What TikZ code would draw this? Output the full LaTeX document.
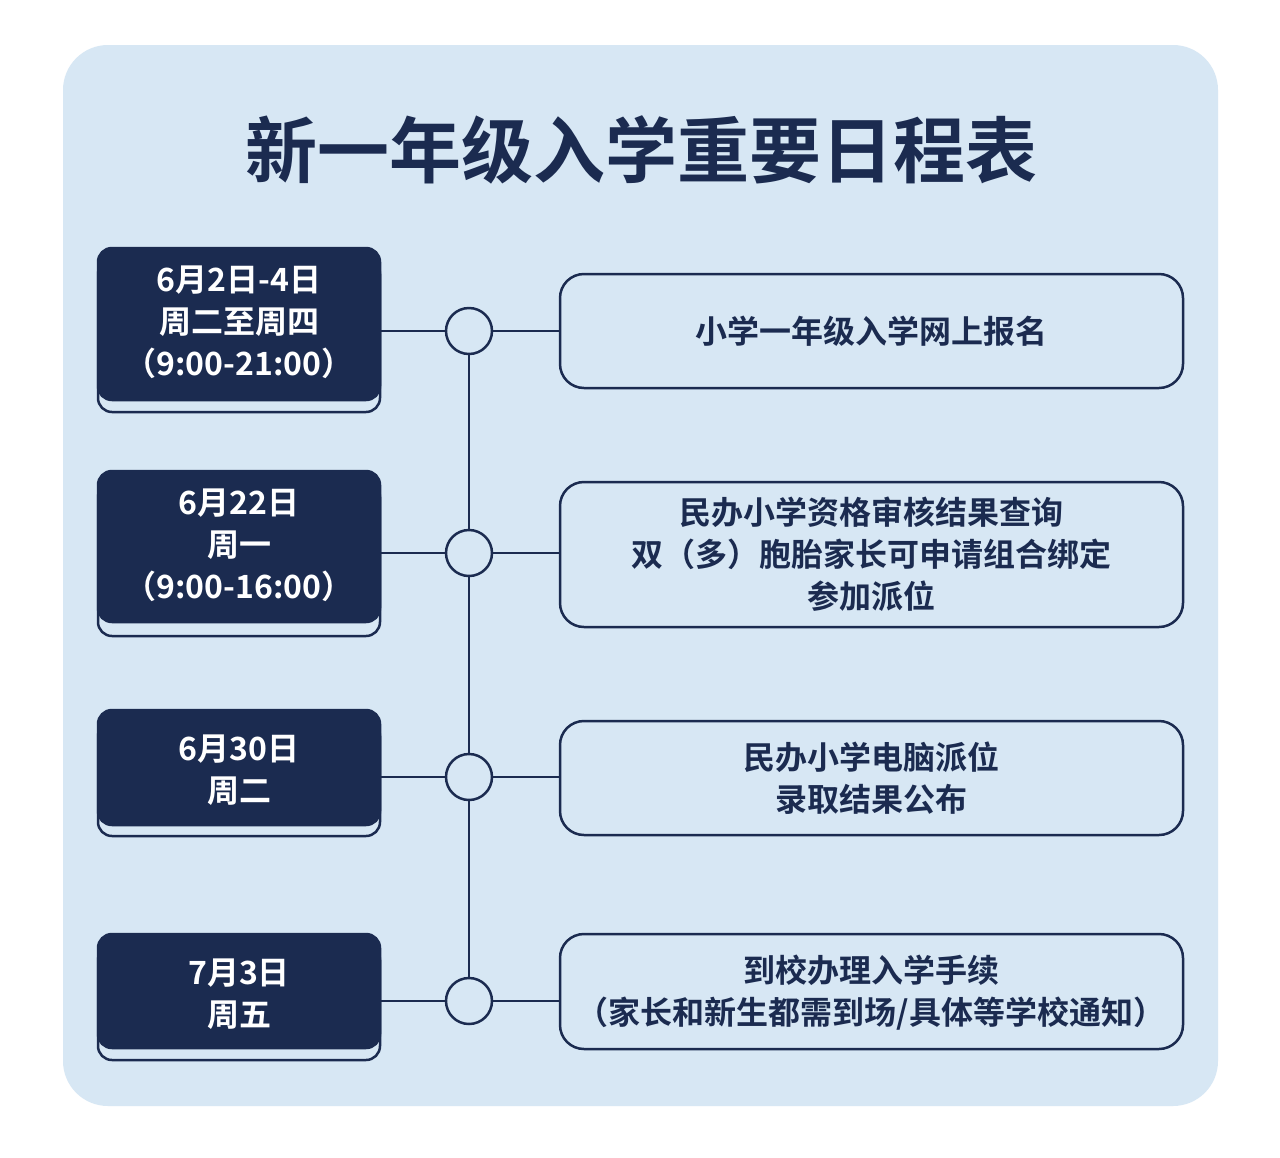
\documentclass[tikz,border=0pt]{standalone}
\usepackage{fontspec}
\setmainfont{Noto Sans CJK SC}[BoldFont={* Bold}]
\definecolor{navy}{HTML}{1B2B50}
\definecolor{bgblue}{HTML}{D7E7F4}
\begin{document}
\begin{tikzpicture}[x=1pt,y=-1pt,
  datebox/.style={fill=navy,draw=navy,line width=2.5pt,rounded corners=14pt},
  shadowbox/.style={fill=bgblue,draw=navy,line width=2.5pt,rounded corners=14pt},
  evbox/.style={fill=bgblue,draw=navy,line width=2.5pt,rounded corners=24pt},
  dot/.style={circle,draw=navy,fill=bgblue,line width=2.5pt,minimum size=46pt,inner sep=0pt},
  dtext/.style={text=white,font=\bfseries\fontsize{32}{42}\selectfont,align=center},
  etext/.style={text=navy,font=\bfseries\fontsize{32}{42}\selectfont,align=center}]
\useasboundingbox (0,0) rectangle (1280,1157);
\fill[white] (0,0) rectangle (1280,1157);
\fill[bgblue,rounded corners=45pt] (63,45) rectangle (1218,1106);
\node[text=navy,font=\bfseries\fontsize{72}{80}\selectfont] (title) at (641,150) {新一年级入学重要日程表};
\coordinate (top) at (469,331);
\coordinate (bot) at (469,1001);
\draw[navy,line width=2.5pt] (top) -- (bot);
\foreach \i/\ya/\yb/\ys/\ey/\eya/\eyb in {1/248/400/412/331/274/388, 2/471/622/636/553/482/627, 3/710/825/836/777/721/835, 4/934/1048/1060/1001/934/1049}{
  \draw[shadowbox] (98,\ya+12) rectangle (380,\ys);
  \draw[datebox] (98,\ya) rectangle (380,\yb);
  \draw[evbox] (560,\eya) rectangle (1183,\eyb);
  \coordinate (L\i) at (380,\ey);
  \coordinate (R\i) at (560,\ey);
  \draw[navy,line width=2.5pt] (L\i) -- (R\i);
  \node[dot] (c\i) at (469,\ey) {};
}
\node[dtext] (d1) at (239,322) {6月2日-4日\\周二至周四\\（9:00-21:00）};
\node[dtext] (d2) at (239,545) {6月22日\\周一\\（9:00-16:00）};
\node[dtext] (d3) at (239,770) {6月30日\\周二};
\node[dtext] (d4) at (239,994) {7月3日\\周五};
\node[etext] (e1) at (871,331) {小学一年级入学网上报名};
\node[etext] (e2) at (871,554) {民办小学资格审核结果查询\\双（多）胞胎家长可申请组合绑定\\参加派位};
\node[etext] (e3) at (871,778) {民办小学电脑派位\\录取结果公布};
\node[etext] (e4) at (871,993) {到校办理入学手续\\（家长和新生都需到场/具体等学校通知）};
\end{tikzpicture}
\end{document}
